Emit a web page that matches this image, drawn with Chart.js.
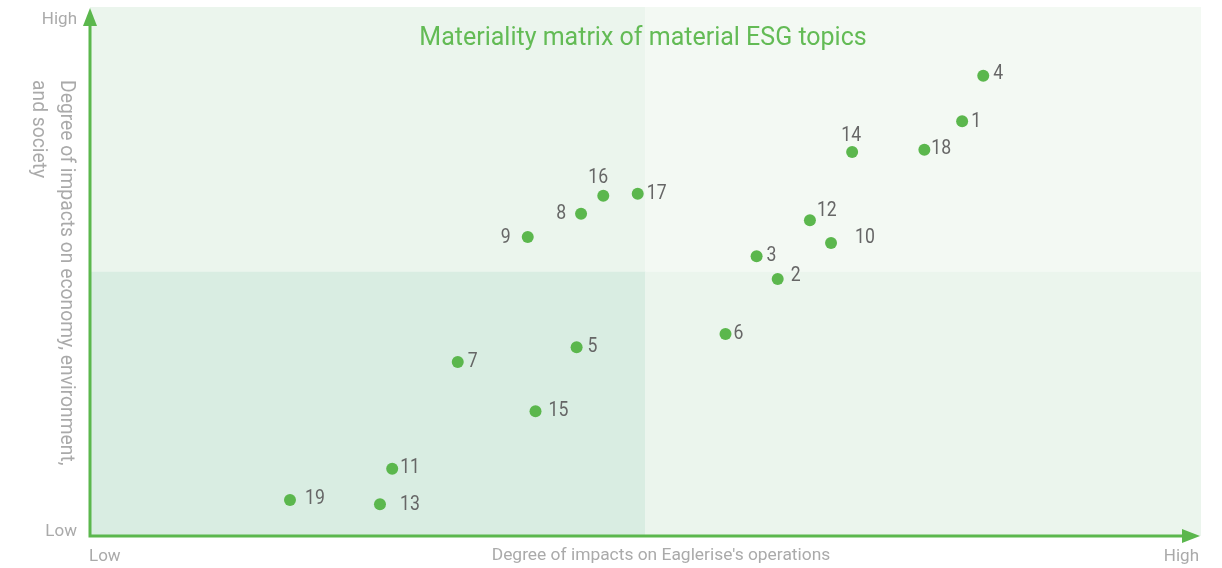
<!DOCTYPE html>
<html>
<head>
<meta charset="utf-8">
<script src="https://cdn.jsdelivr.net/npm/chart.js@4.4.1/dist/chart.umd.min.js"></script>
<style>
  html, body { margin: 0; padding: 0; background: #fff; }
  #wrap { width: 1222px; height: 568px; }
</style>
</head>
<body>
<div id="wrap"><canvas id="matrix-chart"></canvas></div>
<script>
// topics and their scores (0 = low, 10 = high)
const topicLabels = ['1', '2', '3', '4', '5', '6', '7', '8', '9', '10',
  '11', '12', '13', '14', '15', '16', '17', '18', '19'];
const impactOnOperations = [7.85, 6.19, 6.00, 8.04, 4.38, 5.72, 3.31, 4.42, 3.94, 6.67,
  2.72, 6.48, 2.61, 6.86, 4.01, 4.62, 4.93, 7.51, 1.80];
const impactOnSociety = [7.84, 4.86, 5.29, 8.70, 3.57, 3.82, 3.29, 6.09, 5.65, 5.54,
  1.27, 5.97, 0.60, 7.26, 2.36, 6.43, 6.47, 7.30, 0.68];
const tickLabels = ['Low', 'High'];
const chartTitle = 'Materiality matrix of material ESG topics';
const xTitle = "Degree of impacts on Eaglerise's operations";
const yTitle = ['Degree of impacts on economy, environment,', 'and society'];

// label nudges [dx, dy, align] so they sit like the original
const labelNudge = [
  [9, 0, 'left'], [13, -3, 'left'], [10, 0, 'left'], [10, -2, 'left'], [11, 0, 'left'],
  [8, 0, 'left'], [10, 0, 'left'], [-15, 0, 'right'], [-17, 1, 'right'], [24, -5, 'left'],
  [8, -1, 'left'], [7, -9, 'left'], [20, 0, 'left'], [-1, -16, 'center'], [13, 0, 'left'],
  [-5, -18, 'center'], [9, 0, 'left'], [7, -1, 'left'], [15, -1, 'left']
];

const green = '#5bb74d';

const points = impactOnOperations.map((x, i) => ({ x: x, y: impactOnSociety[i] }));

const quadrantPlugin = {
  id: 'quadrants',
  beforeDraw(chart) {
    const ctx = chart.ctx;
    const xs = chart.scales.x, ys = chart.scales.y;
    const x0 = xs.getPixelForValue(0), x5 = xs.getPixelForValue(5), x10 = xs.getPixelForValue(10);
    const y0 = ys.getPixelForValue(0), y5 = ys.getPixelForValue(5), y10 = ys.getPixelForValue(10);
    ctx.save();
    ctx.fillStyle = '#ebf5ed'; ctx.fillRect(x0, y10, x5 - x0, y5 - y10);
    ctx.fillStyle = '#f3f9f3'; ctx.fillRect(x5, y10, x10 - x5, y5 - y10);
    ctx.fillStyle = '#d9ede2'; ctx.fillRect(x0, y5, x5 - x0, y0 - y5);
    ctx.fillStyle = '#ebf5ed'; ctx.fillRect(x5, y5, x10 - x5, y0 - y5);

    // title
    ctx.fillStyle = '#63bb55';
    ctx.font = '25px Roboto';
    ctx.textAlign = 'center';
    ctx.textBaseline = 'middle';
    ctx.fillText(chartTitle, 643, 39);
    ctx.restore();
  },
  afterDatasetsDraw(chart) {
    const ctx = chart.ctx;
    const xs = chart.scales.x, ys = chart.scales.y;
    const x0 = xs.getPixelForValue(0), x10 = xs.getPixelForValue(10);
    const y0 = ys.getPixelForValue(0), y10 = ys.getPixelForValue(10);
    ctx.save();

    // axis arrows
    ctx.strokeStyle = green;
    ctx.fillStyle = green;
    ctx.lineWidth = 3;
    ctx.beginPath();
    ctx.moveTo(x0, y0);
    ctx.lineTo(x0, y10 + 14);
    ctx.moveTo(x0 - 1.5, y0);
    ctx.lineTo(x10 - 14, y0);
    ctx.stroke();
    ctx.beginPath();
    ctx.moveTo(x0, y10 + 1);
    ctx.lineTo(x0 - 7, y10 + 19);
    ctx.lineTo(x0 + 7, y10 + 19);
    ctx.closePath();
    ctx.fill();
    ctx.beginPath();
    ctx.moveTo(x10 - 1, y0);
    ctx.lineTo(x10 - 19, y0 - 7);
    ctx.lineTo(x10 - 19, y0 + 7);
    ctx.closePath();
    ctx.fill();

    // point labels, slightly condensed
    const meta = chart.getDatasetMeta(0);
    const sx = 0.84;
    ctx.fillStyle = '#666';
    ctx.font = '21px Roboto';
    ctx.textBaseline = 'middle';
    meta.data.forEach((pt, i) => {
      const n = labelNudge[i];
      ctx.save();
      ctx.scale(sx, 1);
      ctx.textAlign = n[2];
      ctx.fillText(topicLabels[i], (pt.x + n[0]) / sx, pt.y + n[1]);
      ctx.restore();
    });

    // tick labels
    ctx.fillStyle = '#aaa';
    ctx.font = '17px Roboto';
    ctx.textAlign = 'right';
    ctx.fillText(tickLabels[1], x0 - 13, ys.getPixelForValue(10) + 13);
    ctx.fillText(tickLabels[0], x0 - 13, ys.getPixelForValue(0) - 4);
    ctx.textAlign = 'left';
    ctx.fillText(tickLabels[0], xs.getPixelForValue(0) - 1, y0 + 21);
    ctx.textAlign = 'right';
    ctx.fillText(tickLabels[1], xs.getPixelForValue(10) - 2, y0 + 21);

    // axis titles
    ctx.textAlign = 'center';
    ctx.font = '17.4px Roboto';
    ctx.fillText(xTitle, 661, y0 + 20);

    ctx.font = '19.3px Roboto';
    ctx.textAlign = 'left';
    ctx.translate(66, 80);
    ctx.rotate(Math.PI / 2);
    ctx.fillText(yTitle[0], 0, 0);
    ctx.fillText(yTitle[1], 0, 28);
    ctx.restore();
  }
};

new Chart(document.getElementById('matrix-chart').getContext('2d'), {
  type: 'scatter',
  data: {
    datasets: [{
      label: 'ESG topics',
      data: points,
      backgroundColor: green,
      borderWidth: 0,
      pointRadius: 6,
      pointHoverRadius: 6
    }]
  },
  options: {
    responsive: true,
    maintainAspectRatio: false,
    animation: false,
    layout: {
      padding: { left: 90, right: 21, top: 7, bottom: 32 }
    },
    plugins: {
      legend: { display: false },
      tooltip: { enabled: false }
    },
    scales: {
      x: { type: 'linear', min: 0, max: 10, display: false },
      y: { type: 'linear', min: 0, max: 10, display: false }
    }
  },
  plugins: [quadrantPlugin]
});
</script>
</body>
</html>
